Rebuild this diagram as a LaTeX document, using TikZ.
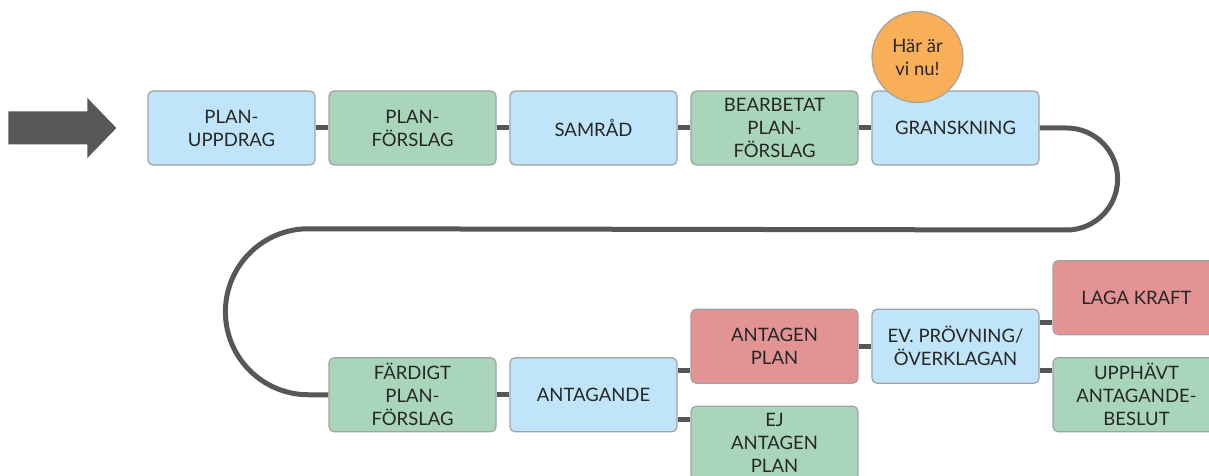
\documentclass[tikz,border=0pt]{standalone}
\usepackage{fontspec}
\setmainfont{Lato}
\usetikzlibrary{calc,backgrounds}

\definecolor{boxblue}{HTML}{C0E4F9}
\definecolor{boxgreen}{HTML}{A9D6BB}
\definecolor{boxred}{HTML}{E39393}
\definecolor{nowor}{HTML}{F8AF58}
\definecolor{boxline}{HTML}{A2A2A2}
\definecolor{boxtext}{HTML}{262626}
\definecolor{linkgray}{HTML}{575757}

\tikzset{
  stage/.style={draw=boxline, line width=1.2pt, rounded corners=5pt,
    minimum width=167pt, minimum height=74pt, inner sep=2pt, align=center,
    text=boxtext, font=\fontsize{18.5}{23}\selectfont},
  bluestage/.style={stage, fill=boxblue},
  greenstage/.style={stage, fill=boxgreen},
  redstage/.style={stage, fill=boxred},
  link/.style={draw=linkgray, line width=5pt},
}

\begin{document}
\begin{tikzpicture}

  \newcommand\X{181pt}
  \newcommand\Y{48.5pt}
  \newcommand\Link[2]{\coordinate (mid) at ($(#1)!0.5!(#2)$);
    \draw[link] (#1.east |- mid) -- (#2.west |- mid);}

  \useasboundingbox (-231.5pt, 128pt) rectangle (977.5pt, -348pt);

  % first row
  \node[bluestage]  (uppdrag)   at (0*\X, 0*\Y) {PLAN-\\UPPDRAG};
  \node[greenstage] (forslag)   at (1*\X, 0*\Y) {PLAN-\\FÖRSLAG};
  \node[bluestage]  (samrad)    at (2*\X, 0*\Y) {SAMRÅD};
  \node[greenstage] (bearbetat) at (3*\X, 0*\Y) {BEARBETAT\\PLAN-\\FÖRSLAG};
  \node[bluestage]  (gransk)    at (4*\X, 0*\Y) {GRANSKNING};

  \node[circle, draw=boxline, line width=1.2pt, fill=nowor, minimum size=91pt,
    inner sep=0pt, align=center, text=boxtext, font=\fontsize{18.5}{23}\selectfont]
    (hereweare) at ([shift={(-38pt, 71pt)}]gransk) {Här är\\vi nu!};

  % second row
  \node[greenstage] (fardigt)   at (1*\X, -5.5*\Y) {FÄRDIGT\\PLAN-\\FÖRSLAG};
  \node[bluestage]  (antagande) at (2*\X, -5.5*\Y) {ANTAGANDE};
  \node[redstage]   (antagen)   at (3*\X, -4.5*\Y) {ANTAGEN\\PLAN};
  \node[greenstage] (ejantagen) at (3*\X, -6.5*\Y) {EJ\\ANTAGEN\\PLAN};
  \node[bluestage]  (provning)  at (4*\X, -4.5*\Y) {EV. PRÖVNING/\\ÖVERKLAGAN};
  \node[redstage]   (laga)      at (5*\X, -3.5*\Y) {LAGA KRAFT};
  \node[greenstage] (upphavt)   at (5*\X, -5.5*\Y) {UPPHÄVT\\ANTAGANDE-\\BESLUT};

  \begin{pgfonlayer}{background}
    \draw[link] (uppdrag.east) -- (forslag.west);
    \draw[link] (forslag.east) -- (samrad.west);
    \draw[link] (samrad.east) -- (bearbetat.west);
    \draw[link] (bearbetat.east) -- (gransk.west);

    %% granskning -> fardigt
    \draw[link] (gransk.east) -- ++(27pt, 0)
      arc[start angle=90, end angle=-90, radius=51pt]
      -- ([shift={(-20pt, 166pt)}]fardigt.west)
      arc[start angle=90, end angle=270, radius=83pt]
      -- (fardigt.west);

    \draw[link] (fardigt.east) -- (antagande.west);
    \Link{antagande}{antagen}
    \Link{antagande}{ejantagen}
    \draw[link] (antagen.east) -- (provning.west);
    \Link{provning}{laga}
    \Link{provning}{upphavt}
  \end{pgfonlayer}

  % start arrow
  \fill[linkgray] ([shift={(-139pt, 16.5pt)}]uppdrag.west) -- ++(79pt, 0) -- ++(0, 13.5pt)
    -- ([shift={(-31pt, 0)}]uppdrag.west) -- ++(-29pt, -30pt) -- ++(0, 13.5pt)
    -- ++(-79pt, 0) -- cycle;

\end{tikzpicture}
\end{document}
